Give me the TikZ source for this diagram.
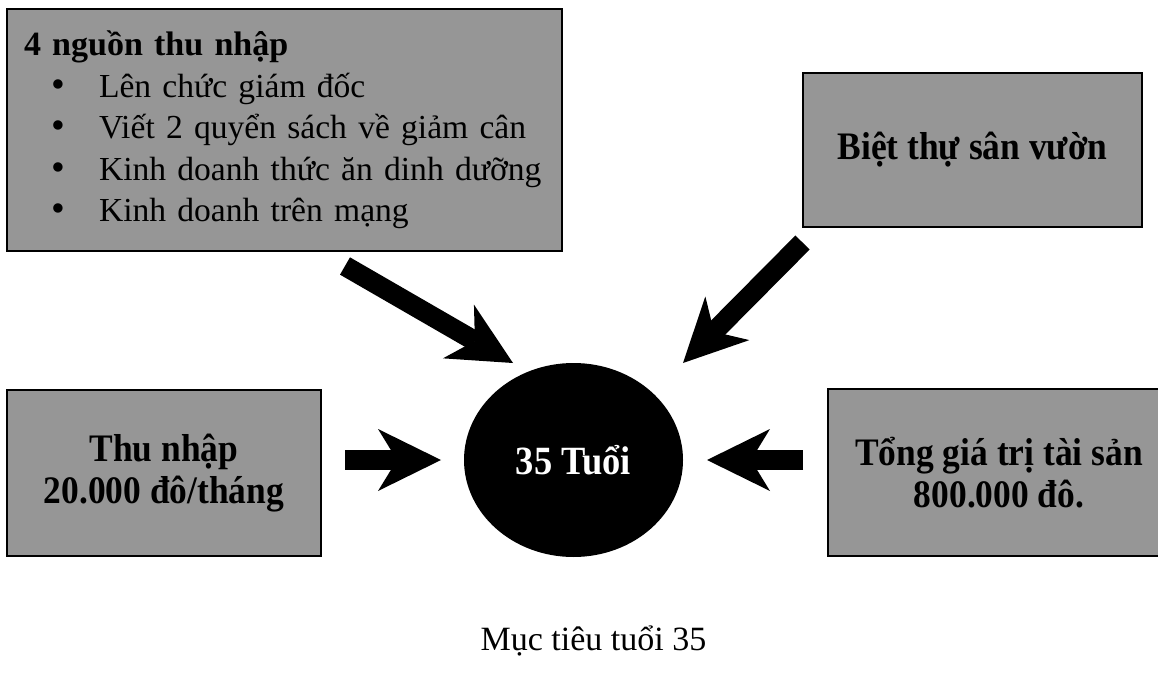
\documentclass[tikz,border=0pt]{standalone}
\usepackage{fontspec}
\setmainfont{Liberation Serif}
\newfontfamily\tallserif{Liberation Serif}[FakeStretch=0.91]
\usepackage{tikz}
\usetikzlibrary{shapes.geometric, arrows.meta, positioning, calc}
\definecolor{boxgray}{RGB}{150, 150, 150}
\newcommand{\bulletitem}[1]{\hspace*{0.7cm}\makebox[1.175cm][l]{\fontsize{28}{29.5}\selectfont•}#1}

\begin{document}
\begin{tikzpicture}[
    graybox/.style={draw=black, line width=1.4pt, fill=boxgray, inner sep=0pt, align=center, font=\tallserif\fontsize{27.7}{29.9}\selectfont\bfseries},
    fatarrow/.style={line width=0.5cm, -{Stealth[length=1.575cm, width=1.55cm, inset=0.475cm, line width=0pt]}}
  ]
  \useasboundingbox (0, 0) rectangle (28.95, 16.875);
  \clip (0, 0) rectangle (28.95, 16.875);

  % income sources
  \node[graybox, minimum width=13.875cm, minimum height=6.05cm, inner xsep=0.425cm, text width=13.025cm, align=left, font=\fontsize{23.9}{29.5}\selectfont] (income) at (7.1125, 13.625) {
    {\fontsize{24.2}{29.5}\selectfont\bfseries 4 nguồn thu nhập}\\
    \bulletitem{Lên chức giám đốc}\\
    \bulletitem{Viết 2 quyển sách về giảm cân}\\
    \bulletitem{Kinh doanh thức ăn dinh dưỡng}\\
    \bulletitem{Kinh doanh trên mạng}
  };

  % other goals
  \node[graybox, minimum width=8.475cm, minimum height=3.85cm] (villa) at (24.3125, 13.125) {Biệt thự sân vườn};
  \node[graybox, minimum width=7.85cm, minimum height=4.15cm] (salary) at (4.1, 5.05) {Thu nhập\\20.000 đô/tháng};
  \node[graybox, minimum width=8.55cm, minimum height=4.175cm] (assets) at (24.975, 5.0625) {Tổng giá trị tài sản\\800.000 đô.};

  % centre
  \node[ellipse, fill=black, minimum width=5.475cm, minimum height=4.85cm, inner sep=0pt, text=white, font=\tallserif\fontsize{28.5}{30}\selectfont\bfseries] (goal) at (14.3375, 5.375) {35 Tuổi};

  % arrows
  \coordinate (incomeTail) at (8.625, 10.225);
  \coordinate (incomeTip) at (12.825, 7.8);
  \coordinate (villaTail) at (20.0625, 10.8125);
  \coordinate (villaTip) at (17.075, 7.8);
  \coordinate (salaryTail) at (8.625, 5.375);
  \coordinate (salaryTip) at (11.025, 5.375);
  \coordinate (assetsTail) at (20.075, 5.375);
  \coordinate (assetsTip) at (17.675, 5.375);

  \draw[fatarrow] (incomeTail) -- (incomeTip);
  \draw[fatarrow] (villaTail) -- (villaTip);
  \draw[fatarrow] (salaryTail) -- (salaryTip);
  \draw[fatarrow] (assetsTail) -- (assetsTip);

  \node[font=\fontsize{24.2}{28}\selectfont, anchor=base] (caption) at (14.8375, 0.625) {Mục tiêu tuổi 35};
\end{tikzpicture}
\end{document}
